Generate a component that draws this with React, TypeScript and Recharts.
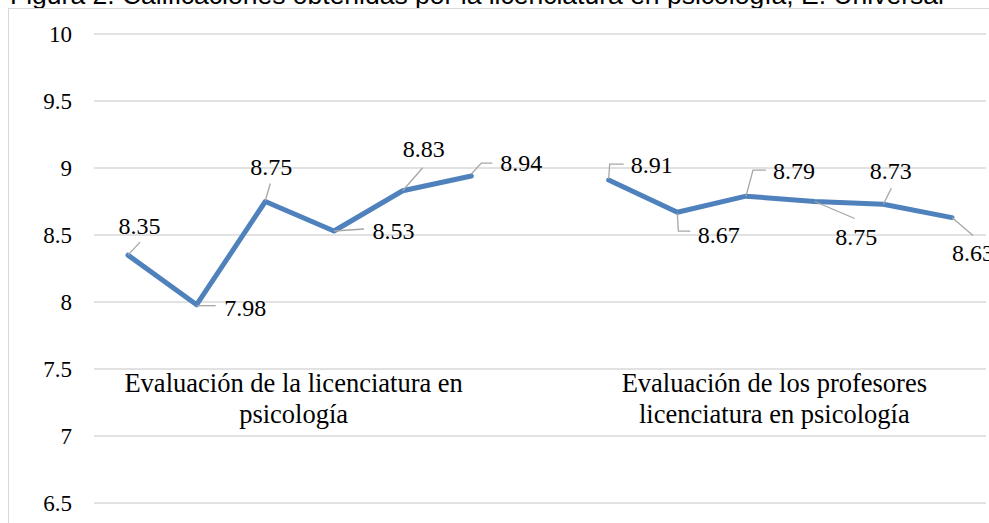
import { LineChart, Line, XAxis, YAxis, CartesianGrid, ReferenceArea } from 'recharts'

const licenciaturaScores = [8.35, 7.98, 8.75, 8.53, 8.83, 8.94]
const profesoresScores = [8.91, 8.67, 8.79, 8.75, 8.73, 8.63]
const yTicks = [6.5, 7, 7.5, 8, 8.5, 9, 9.5, 10]
const groupLines = [
  ['Evaluación de la licenciatura en', 'psicología'],
  ['Evaluación de los profesores', 'licenciatura en psicología'],
]
const TITLE = 'Figura 2. Calificaciones obtenidas por la licenciatura en psicología, E. Universal'

// where each data label sits relative to its point (label centre + leader path), Excel-style
type Placement = { dx: number; dy: number; leader: [number, number][] }
const labelPlacements: (Placement | null)[] = [
  { dx: 11.5, dy: -29, leader: [[0, 0], [12, -13]] },
  { dx: 48.5, dy: 3, leader: [[0, 1], [19, 1]] },
  { dx: 6, dy: -35, leader: [[0, -1], [5, -18]] },
  { dx: 59.5, dy: 0, leader: [[0, 0], [30, -2]] },
  { dx: 21, dy: -42, leader: [[0, 0], [20, -23]] },
  { dx: 50, dy: -13, leader: [[0, -2], [10, -13], [21, -13]] },
  null,
  { dx: 43, dy: -15, leader: [[0, -1], [1, -16], [15, -16]] },
  { dx: 41.5, dy: 22.5, leader: [[0, 1], [1, 19], [13, 19]] },
  { dx: 48, dy: -25, leader: [[0, 0], [7, -26], [20, -26]] },
  { dx: 41.5, dy: 35, leader: [[0, 0], [40, 17]] },
  { dx: 7.5, dy: -33.5, leader: [[0, 0], [8, -16]] },
  { dx: 21, dy: 35, leader: [[0, 0], [21, 18]] },
]

const data = [
  ...licenciaturaScores.map((v, i) => ({ cat: `L${i + 1}`, value: v as number | null })),
  { cat: 'gap', value: null },
  ...profesoresScores.map((v, i) => ({ cat: `P${i + 1}`, value: v as number | null })),
]

const SERIF = "'Liberation Serif', 'Times New Roman', serif"

function renderPoint(props: any) {
  const { cx, cy, index, value } = props
  const place = labelPlacements[index]
  if (cx == null || cy == null || value == null || !place) return <g key={`pt${index}`} />
  const d = place.leader.map(([dx, dy], i) => `${i ? 'L' : 'M'}${cx + dx},${cy + dy}`).join(' ')
  return (
    <g key={`pt${index}`}>
      <path d={d} stroke="#A6A6A6" strokeWidth={1.3} fill="none" />
      <text x={cx + place.dx} y={cy + place.dy} textAnchor="middle" dominantBaseline="central"
        fontSize={24} fontFamily={SERIF} fill="#000">
        {Number(value).toFixed(2)}
      </text>
    </g>
  )
}

function groupLabel(lines: string[]) {
  return (props: any) => {
    const vb = props.viewBox ?? {}
    const cx = vb.x + vb.width / 2 - 6
    return (
      <text textAnchor="middle" fontSize={26.5} fontFamily={SERIF} fill="#000">
        {lines.map((l, i) => (
          <tspan key={i} x={cx} y={vb.y + i * 31}>{l}</tspan>
        ))}
      </text>
    )
  }
}

export default function App() {
  return (
    <>
      <div style={{
        position: 'absolute', left: 10, top: -20, fontFamily: "'Liberation Sans', Arial, sans-serif",
        fontSize: 26.5, whiteSpace: 'nowrap', color: '#000',
      }}>
        {TITLE}
      </div>
      <div style={{
        position: 'absolute', left: 8, top: 8, width: 981, height: 515, overflow: 'hidden',
        borderLeft: '1px solid #D9D9D9', borderTop: '1px solid #D9D9D9', boxSizing: 'border-box', background: '#fff',
      }}>
        <LineChart width={1000} height={520} data={data} margin={{ top: 25, right: 23, bottom: 26, left: 0 }}>
          <CartesianGrid vertical={false} stroke="#D9D9D9" strokeWidth={1.5} />
          <XAxis dataKey="cat" hide padding={{ left: 34, right: 34 }} />
          <YAxis domain={[6.5, 10]} ticks={yTicks} width={85} axisLine={false} tickLine={false}
            tickSize={0} tickMargin={22} tick={{ fontSize: 23, fontFamily: SERIF, fill: '#000' }} />
          <ReferenceArea x1="L1" x2="L6" y1={7.1} y2={7.33} fill="transparent" stroke="none"
            label={groupLabel(groupLines[0])} />
          <ReferenceArea x1="P1" x2="P6" y1={7.1} y2={7.33} fill="transparent" stroke="none"
            label={groupLabel(groupLines[1])} />
          <Line dataKey="value" stroke="#4F81BD" strokeWidth={5} strokeLinejoin="round" strokeLinecap="round"
            dot={renderPoint} activeDot={false} isAnimationActive={false} connectNulls={false} />
        </LineChart>
      </div>
    </>
  )
}
